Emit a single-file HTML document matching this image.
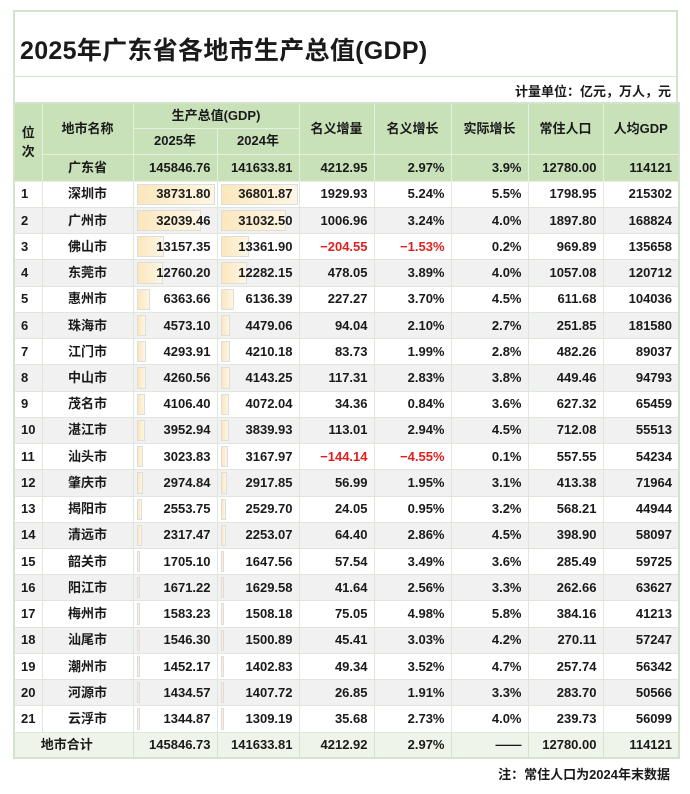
<!DOCTYPE html>
<html><head><meta charset="utf-8"><style>
*{margin:0;padding:0;box-sizing:border-box}
body{width:690px;height:794px;background:#fff;font-family:"Liberation Sans","Noto Sans CJK SC",sans-serif;color:#1a1a1a;position:relative;overflow:hidden}
.title{position:absolute;left:13px;top:10px;width:665px;height:66px;border:2px solid #d3e3cc;border-bottom:none;font-size:25px;font-weight:bold;padding:19px 0 0 5px;letter-spacing:0.3px}
.unit{position:absolute;left:13px;top:76px;width:665px;height:26px;border:2px solid #d3e3cc;border-bottom:none;border-top:1px solid #d3e3cc;text-align:right;font-size:13px;font-weight:bold;padding:4px 5px 0 0}
table{position:absolute;left:13px;top:102px;width:665px;border-collapse:collapse;table-layout:fixed;font-size:13px;font-weight:bold;border:2px solid #d3e3cc}
td{border:1px solid #dfe7dc;height:26.24px;line-height:16px;text-align:right;padding-right:6px;position:relative;white-space:nowrap;vertical-align:middle}
td.c{text-align:center;padding:0}
td.l{text-align:left;padding-left:6px}
.h td{background:#c8e1b8;text-align:center;padding:0;border-color:#e6f0e0}
.g td{background:#c8e1b8;border-color:#e6f0e0}
tr.e td{background:#f1f1f1}
.b{position:absolute;left:3px;top:2px;bottom:2px;background:linear-gradient(90deg,#fbe7bd,#fdf6e4);border:1px solid #ddd;z-index:0}
.v{position:relative;z-index:1}
.r{color:#e02020}
.tot td{background:#eef4ea;border-color:#d3e3cc}
.note{position:absolute;right:20px;top:764px;font-size:13px;font-weight:bold}
</style></head><body>
<div class="title">2025年广东省各地市生产总值(GDP)</div>
<div class="unit">计量单位：亿元，万人，元</div>
<table>
<colgroup><col style="width:28px"><col style="width:91px"><col style="width:84px"><col style="width:82px"><col style="width:75px"><col style="width:77px"><col style="width:77px"><col style="width:75px"><col style="width:76px"></colgroup>
<tr class="h"><td rowspan="3" style="line-height:19px">位<br>次</td><td rowspan="2">地市名称</td><td colspan="2" style="height:25px">生产总值(GDP)</td><td rowspan="2">名义增量</td><td rowspan="2">名义增长</td><td rowspan="2">实际增长</td><td rowspan="2">常住人口</td><td rowspan="2">人均GDP</td></tr>
<tr class="h"><td style="height:26px">2025年</td><td>2024年</td></tr>
<tr class="g"><td class="c" style="height:27px">广东省</td><td>145846.76</td><td>141633.81</td><td>4212.95</td><td>2.97%</td><td>3.9%</td><td>12780.00</td><td>114121</td></tr>
<tr><td class="l">1</td><td class="c">深圳市</td><td><i class="b" style="width:78px"></i><span class="v">38731.80</span></td><td><i class="b" style="width:77px"></i><span class="v">36801.87</span></td><td>1929.93</td><td>5.24%</td><td>5.5%</td><td>1798.95</td><td>215302</td></tr>
<tr class="e"><td class="l">2</td><td class="c">广州市</td><td><i class="b" style="width:64px"></i><span class="v">32039.46</span></td><td><i class="b" style="width:65px"></i><span class="v">31032.50</span></td><td>1006.96</td><td>3.24%</td><td>4.0%</td><td>1897.80</td><td>168824</td></tr>
<tr><td class="l">3</td><td class="c">佛山市</td><td><i class="b" style="width:27px"></i><span class="v">13157.35</span></td><td><i class="b" style="width:28px"></i><span class="v">13361.90</span></td><td class="r">−204.55</td><td class="r">−1.53%</td><td>0.2%</td><td>969.89</td><td>135658</td></tr>
<tr class="e"><td class="l">4</td><td class="c">东莞市</td><td><i class="b" style="width:26px"></i><span class="v">12760.20</span></td><td><i class="b" style="width:26px"></i><span class="v">12282.15</span></td><td>478.05</td><td>3.89%</td><td>4.0%</td><td>1057.08</td><td>120712</td></tr>
<tr><td class="l">5</td><td class="c">惠州市</td><td><i class="b" style="width:13px"></i><span class="v">6363.66</span></td><td><i class="b" style="width:13px"></i><span class="v">6136.39</span></td><td>227.27</td><td>3.70%</td><td>4.5%</td><td>611.68</td><td>104036</td></tr>
<tr class="e"><td class="l">6</td><td class="c">珠海市</td><td><i class="b" style="width:9px"></i><span class="v">4573.10</span></td><td><i class="b" style="width:9px"></i><span class="v">4479.06</span></td><td>94.04</td><td>2.10%</td><td>2.7%</td><td>251.85</td><td>181580</td></tr>
<tr><td class="l">7</td><td class="c">江门市</td><td><i class="b" style="width:9px"></i><span class="v">4293.91</span></td><td><i class="b" style="width:9px"></i><span class="v">4210.18</span></td><td>83.73</td><td>1.99%</td><td>2.8%</td><td>482.26</td><td>89037</td></tr>
<tr class="e"><td class="l">8</td><td class="c">中山市</td><td><i class="b" style="width:9px"></i><span class="v">4260.56</span></td><td><i class="b" style="width:9px"></i><span class="v">4143.25</span></td><td>117.31</td><td>2.83%</td><td>3.8%</td><td>449.46</td><td>94793</td></tr>
<tr><td class="l">9</td><td class="c">茂名市</td><td><i class="b" style="width:8px"></i><span class="v">4106.40</span></td><td><i class="b" style="width:8px"></i><span class="v">4072.04</span></td><td>34.36</td><td>0.84%</td><td>3.6%</td><td>627.32</td><td>65459</td></tr>
<tr class="e"><td class="l">10</td><td class="c">湛江市</td><td><i class="b" style="width:8px"></i><span class="v">3952.94</span></td><td><i class="b" style="width:8px"></i><span class="v">3839.93</span></td><td>113.01</td><td>2.94%</td><td>4.5%</td><td>712.08</td><td>55513</td></tr>
<tr><td class="l">11</td><td class="c">汕头市</td><td><i class="b" style="width:6px"></i><span class="v">3023.83</span></td><td><i class="b" style="width:7px"></i><span class="v">3167.97</span></td><td class="r">−144.14</td><td class="r">−4.55%</td><td>0.1%</td><td>557.55</td><td>54234</td></tr>
<tr class="e"><td class="l">12</td><td class="c">肇庆市</td><td><i class="b" style="width:6px"></i><span class="v">2974.84</span></td><td><i class="b" style="width:6px"></i><span class="v">2917.85</span></td><td>56.99</td><td>1.95%</td><td>3.1%</td><td>413.38</td><td>71964</td></tr>
<tr><td class="l">13</td><td class="c">揭阳市</td><td><i class="b" style="width:5px"></i><span class="v">2553.75</span></td><td><i class="b" style="width:5px"></i><span class="v">2529.70</span></td><td>24.05</td><td>0.95%</td><td>3.2%</td><td>568.21</td><td>44944</td></tr>
<tr class="e"><td class="l">14</td><td class="c">清远市</td><td><i class="b" style="width:5px"></i><span class="v">2317.47</span></td><td><i class="b" style="width:5px"></i><span class="v">2253.07</span></td><td>64.40</td><td>2.86%</td><td>4.5%</td><td>398.90</td><td>58097</td></tr>
<tr><td class="l">15</td><td class="c">韶关市</td><td><i class="b" style="width:3px"></i><span class="v">1705.10</span></td><td><i class="b" style="width:3px"></i><span class="v">1647.56</span></td><td>57.54</td><td>3.49%</td><td>3.6%</td><td>285.49</td><td>59725</td></tr>
<tr class="e"><td class="l">16</td><td class="c">阳江市</td><td><i class="b" style="width:3px"></i><span class="v">1671.22</span></td><td><i class="b" style="width:3px"></i><span class="v">1629.58</span></td><td>41.64</td><td>2.56%</td><td>3.3%</td><td>262.66</td><td>63627</td></tr>
<tr><td class="l">17</td><td class="c">梅州市</td><td><i class="b" style="width:3px"></i><span class="v">1583.23</span></td><td><i class="b" style="width:3px"></i><span class="v">1508.18</span></td><td>75.05</td><td>4.98%</td><td>5.8%</td><td>384.16</td><td>41213</td></tr>
<tr class="e"><td class="l">18</td><td class="c">汕尾市</td><td><i class="b" style="width:3px"></i><span class="v">1546.30</span></td><td><i class="b" style="width:3px"></i><span class="v">1500.89</span></td><td>45.41</td><td>3.03%</td><td>4.2%</td><td>270.11</td><td>57247</td></tr>
<tr><td class="l">19</td><td class="c">潮州市</td><td><i class="b" style="width:3px"></i><span class="v">1452.17</span></td><td><i class="b" style="width:3px"></i><span class="v">1402.83</span></td><td>49.34</td><td>3.52%</td><td>4.7%</td><td>257.74</td><td>56342</td></tr>
<tr class="e"><td class="l">20</td><td class="c">河源市</td><td><i class="b" style="width:3px"></i><span class="v">1434.57</span></td><td><i class="b" style="width:3px"></i><span class="v">1407.72</span></td><td>26.85</td><td>1.91%</td><td>3.3%</td><td>283.70</td><td>50566</td></tr>
<tr><td class="l">21</td><td class="c">云浮市</td><td><i class="b" style="width:3px"></i><span class="v">1344.87</span></td><td><i class="b" style="width:3px"></i><span class="v">1309.19</span></td><td>35.68</td><td>2.73%</td><td>4.0%</td><td>239.73</td><td>56099</td></tr>
<tr class="tot"><td colspan="2" class="c" style="text-align:center;padding-right:14px">地市合计</td><td>145846.73</td><td>141633.81</td><td>4212.92</td><td>2.97%</td><td>——</td><td>12780.00</td><td>114121</td></tr>
</table>
<div class="note">注：常住人口为2024年末数据</div>
</body></html>
